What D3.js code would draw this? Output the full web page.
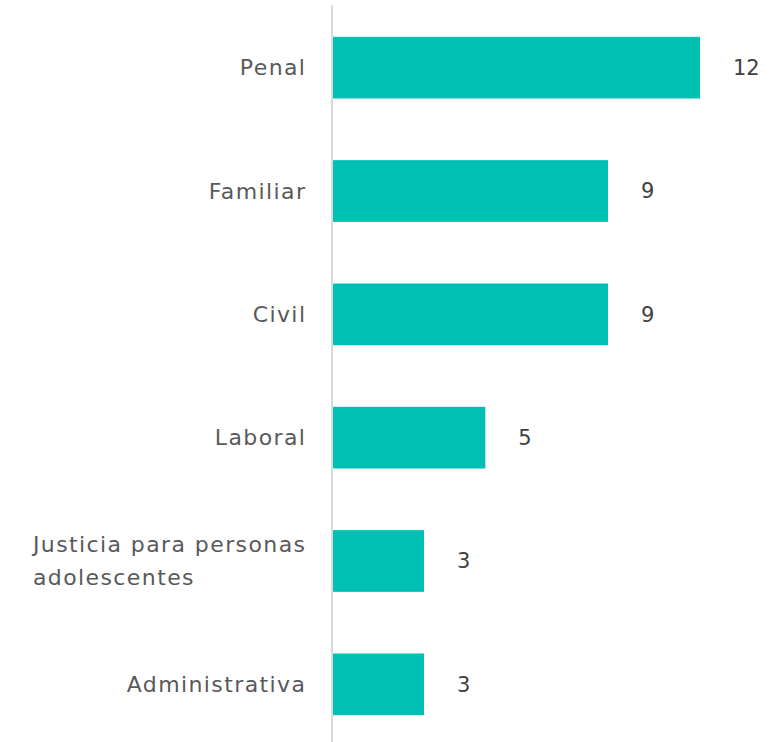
<!DOCTYPE html>
<html>
<head>
<meta charset="utf-8">
<script src="https://cdn.jsdelivr.net/npm/d3@7"></script>
<style>
  body { margin: 0; background: #fff; }
  text { font-family: "DejaVu Sans", "Noto Sans", sans-serif; }
</style>
</head>
<body>
<div id="chart"></div>
<script>
var categories = ["Penal", "Familiar", "Civil", "Laboral", "Justicia para personas adolescentes", "Administrativa"];
var labelLines = [["Penal"], ["Familiar"], ["Civil"], ["Laboral"], ["Justicia para personas", "adolescentes"], ["Administrativa"]];
var values = [12, 9, 9, 5, 3, 3];

var width = 782;
var height = 742;
var margin = { top: 6, left: 332, right: 50, bottom: -4 };

var svg = d3.select("#chart")
    .append("svg")
    .attr("width", width)
    .attr("height", height);

var xScale = d3.scaleLinear()
    .domain([0, 12])
    .range([margin.left, margin.left + 368]);

var yScale = d3.scaleBand()
    .domain(categories)
    .range([margin.top, height - margin.bottom])
    .paddingInner(0.5)
    .paddingOuter(0.25);

var data = categories.map(function(c, i) {
    return { cat: c, value: values[i], lines: labelLines[i] };
});

svg.selectAll("rect")
    .data(data)
    .enter()
    .append("rect")
    .attr("x", xScale(0))
    .attr("y", function(d) { return yScale(d.cat); })
    .attr("width", function(d) { return xScale(d.value) - xScale(0); })
    .attr("height", yScale.bandwidth())
    .attr("fill", "#00BFB3");

// vertical axis line
svg.append("line")
    .attr("x1", xScale(0))
    .attr("x2", xScale(0))
    .attr("y1", 5)
    .attr("y2", height)
    .attr("stroke", "#d9d9d9")
    .attr("stroke-width", 2);

// category labels: block right-aligned at the axis, lines left-aligned inside
var lineH = 33;
var labelRight = xScale(0) - 27;
data.forEach(function(d) {
    var cy = yScale(d.cat) + yScale.bandwidth() / 2;
    var n = d.lines.length;
    var t = svg.append("text")
        .attr("fill", "#595959")
        .attr("font-size", "22px")
        .attr("letter-spacing", "1.4px")
        .attr("text-anchor", "start");
    var spans = d.lines.map(function(l, i) {
        return t.append("tspan")
            .attr("y", cy + (i - (n - 1) / 2) * lineH)
            .attr("dy", "0.35em")
            .text(l);
    });
    // trailing letter-spacing is counted in the length, remove it
    var maxW = d3.max(spans, function(s) { return s.node().getComputedTextLength() - 1.4; });
    spans.forEach(function(s) { s.attr("x", labelRight - maxW); });
});

// value labels
svg.selectAll(".val")
    .data(data)
    .enter()
    .append("text")
    .attr("class", "val")
    .attr("x", function(d) { return xScale(d.value) + 33; })
    .attr("y", function(d) { return yScale(d.cat) + yScale.bandwidth() / 2; })
    .attr("dy", "0.35em")
    .attr("fill", "#404040")
    .attr("font-size", "21px")
    .text(function(d) { return d.value; });
</script>
</body>
</html>
